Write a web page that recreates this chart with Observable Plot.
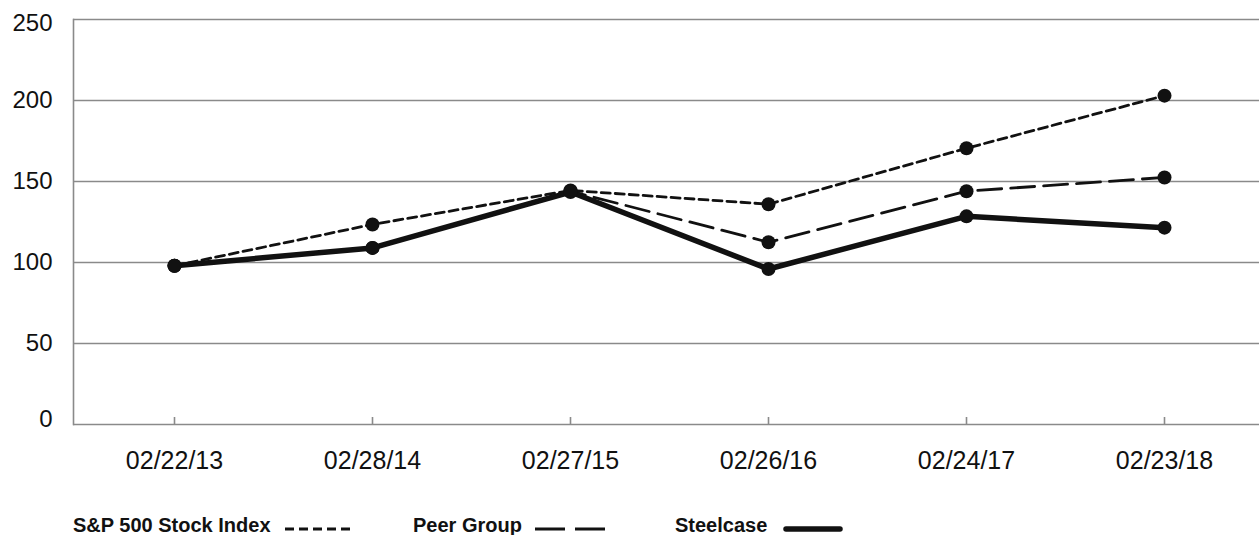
<!DOCTYPE html>
<html>
<head>
<meta charset="utf-8">
<script src="https://cdn.jsdelivr.net/npm/d3@7"></script>
<script src="https://cdn.jsdelivr.net/npm/@observablehq/plot@0.6"></script>
<style>
  html, body { margin: 0; padding: 0; background: #fff; overflow: hidden; }
  #chart { width: 1259px; height: 535px; }
  #chart svg { display: block; }
</style>
</head>
<body>
<div id="chart"></div>
<script>
const dates = ["02/22/13", "02/28/14", "02/27/15", "02/26/16", "02/24/17", "02/23/18"];
const sp500 = [98, 123.5, 144.5, 136, 170.5, 203];
const peerGroup = [98, 109, 144, 112.5, 144, 152.5];
const steelcase = [98, 109, 143.5, 96, 128.5, 121.5];
const yTicks = [0, 50, 100, 150, 200, 250];
const seriesNames = ["S&P 500 Stock Index", "Peer Group", "Steelcase"];

const table = (vals, name) => dates.map((d, i) => ({date: d, value: vals[i], series: name}));
const spData = table(sp500, seriesNames[0]);
const peerData = table(peerGroup, seriesNames[1]);
const steelData = table(steelcase, seriesNames[2]);
const allData = [...spData, ...peerData, ...steelData];

const grid = "#8a8a8a";
const ink = "#111";
const spDash = "9,5";
const peerDash = "24,9";

const plot = Plot.plot({
  width: 1259,
  height: 500,
  marginTop: 19,
  marginBottom: 76,
  marginLeft: 73,
  marginRight: 0,
  style: {fontFamily: "'Liberation Sans', Arial, Helvetica, sans-serif", fontSize: "24px", color: "#111", background: "#fff"},
  x: {type: "point", domain: dates, range: [172, 1165], padding: 0, label: null},
  y: {domain: [0, 250], label: null},
  marks: [
    Plot.ruleY(yTicks, {stroke: grid, strokeWidth: 1.6}),
    Plot.frame({anchor: "left", stroke: grid, strokeWidth: 1.6}),
    Plot.axisY(yTicks.filter(t => t > 0 && t < 250), {tickSize: 0, tickPadding: 21, fontSize: 24}),
    Plot.axisY([250], {tickSize: 0, tickPadding: 21, fontSize: 24, dy: 4}),
    Plot.axisY([0], {tickSize: 0, tickPadding: 21, fontSize: 24, dy: -5}),
    Plot.axisX({tickSize: -7, stroke: grid, strokeWidth: 1.6, text: null}),
    Plot.axisX({tickSize: 0, tickPadding: 27, fontSize: 25}),
    Plot.line(spData, {x: "date", y: "value", stroke: ink, strokeWidth: 2.8, strokeDasharray: spDash}),
    Plot.line(peerData, {x: "date", y: "value", stroke: ink, strokeWidth: 2.8, strokeDasharray: peerDash}),
    Plot.line(steelData, {x: "date", y: "value", stroke: ink, strokeWidth: 5.5}),
    Plot.dot(allData, {x: "date", y: "value", r: 7, fill: ink, stroke: "none"})
  ]
});
const chart = document.getElementById("chart");
chart.appendChild(plot);

// Legend (below the SVG)
const items = [
  {name: seriesNames[0], tx: 73, x1: 285, x2: 354, dash: spDash, w: 3, cap: "butt"},
  {name: seriesNames[1], tx: 413, x1: 535, x2: 607, dash: "30,10", w: 3, cap: "butt"},
  {name: seriesNames[2], tx: 675, x1: 786, x2: 840, dash: null, w: 5.5, cap: "round"}
];
const legend = d3.create("svg").attr("width", 1259).attr("height", 35)
  .style("font-family", "'Liberation Sans', Arial, Helvetica, sans-serif")
  .style("font-weight", "bold").style("font-size", "20px");
for (const it of items) {
  legend.append("text").attr("x", it.tx).attr("y", 32).attr("fill", ink).text(it.name);
  legend.append("line").attr("x1", it.x1).attr("x2", it.x2).attr("y1", 29).attr("y2", 29)
    .attr("stroke", ink).attr("stroke-width", it.w).attr("stroke-linecap", it.cap)
    .attr("stroke-dasharray", it.dash);
}
chart.appendChild(legend.node());
</script>
</body>
</html>
